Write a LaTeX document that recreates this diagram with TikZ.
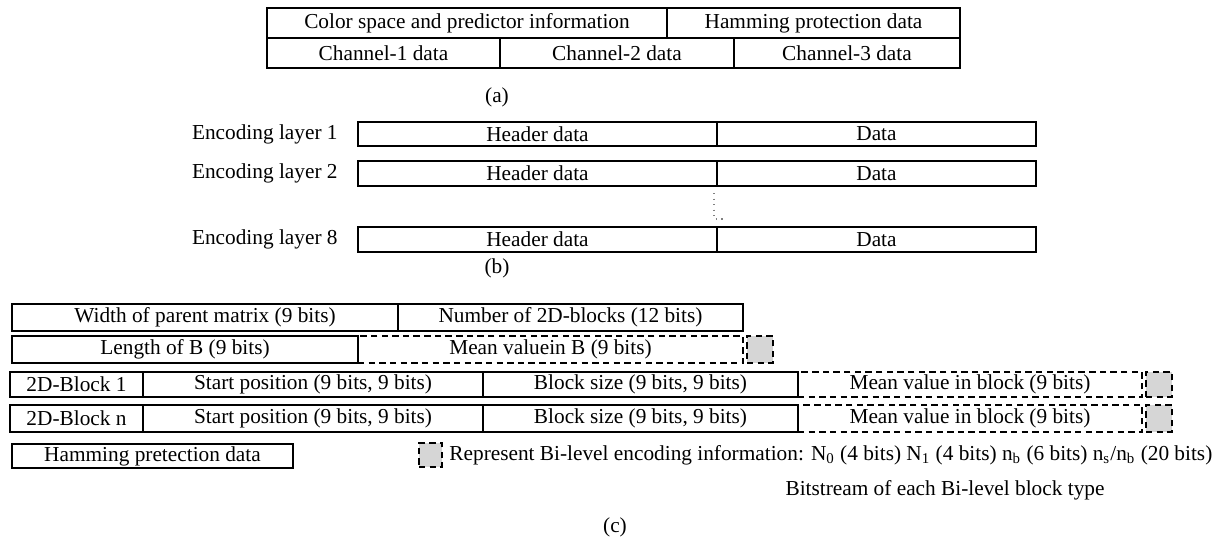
\documentclass[tikz,border=0pt]{standalone}
\usepackage{fontspec}
\setmainfont{Liberation Serif}
\newcommand\pxu{0.0165cm}
\definecolor{bitgray}{gray}{0.84}
% one field of a bitstream: [style]{name}{text}{left}{right}{top}{bottom}
\newcommand{\field}[7][cell]{%
	\node[#1, minimum width={(#5-#4)*\pxu}, minimum height={(#7-#6)*\pxu}] (#2) at ({(#4+#5)/2},{(#6+#7)/2}) {#3};
}
\newcommand{\layer}[3]{%
	\node[lbl, anchor=east] (lay#1) at (338,{(#2+#3)/2}) {Encoding layer #1};
	\field{hd#1}{Header data}{358}{717}{#2}{#3}
	\field{dt#1}{Data}{717}{1036}{#2}{#3}
}
\newcommand{\blockrow}[4]{%
	\field{blk#1}{2D-Block #2}{10}{143}{#3}{#4}
	\field{sp#1}{Start position (9 bits, 9 bits)}{143}{483}{#3}{#4}
	\field{bs#1}{Block size (9 bits, 9 bits)}{483}{798}{#3}{#4}
	\field[dcell]{mv#1}{Mean value in block (9 bits)}{798}{1142}{#3}{#4}
	\field[bitbox]{bq#1}{}{1146}{1172}{#3}{#4}
}

\begin{document}
\begin{tikzpicture}[x=0.0165cm, y=-0.0165cm,
	cell/.style={draw, line width=0.6pt, inner sep=0pt, outer sep=0pt},
	dcell/.style={cell, dash pattern=on 3pt off 2pt},
	bitbox/.style={dcell, fill=bitgray},
	lbl/.style={inner sep=0pt}]
	
	\useasboundingbox (0,0) rectangle (1230,539);
	
	% (a)
	\field{csp}{Color space and predictor information}{267}{667}{8}{38}
	\field{ham}{Hamming protection data}{667}{960}{8}{38}
	\field{ch1}{Channel-1 data}{267}{500}{38}{68}
	\field{ch2}{Channel-2 data}{500}{734}{38}{68}
	\field{ch3}{Channel-3 data}{734}{960}{38}{68}
	\node[lbl] (capa) at (497,97) {(a)};
	
	% (b)
	\layer{1}{122}{146}
	\layer{2}{161}{186}
	\layer{8}{227}{252}
	\draw[dotted, line width=0.6pt, gray] (714,193) -- (714,219) -- (724,219);
	\node[lbl] (capb) at (497,268) {(b)};
	
	% (c)
	\field{wpm}{Width of parent matrix (9 bits)}{12}{398}{304}{331}
	\field{nbl}{Number of 2D-blocks (12 bits)}{398}{743}{304}{331}
	\field{lob}{Length of B (9 bits)}{12}{358}{336}{363}
	\field[dcell]{mvb}{Mean valuein B (9 bits)}{358}{743}{336}{363}
	\field[bitbox]{bqb}{}{747}{773}{336}{363}
	
	\blockrow{1}{1}{372}{397}
	\blockrow{n}{n}{405}{432}
	
	\field{hpd}{Hamming pretection data}{12}{293}{444}{468}
	\field[bitbox]{leg}{}{419}{442}{443}{467}
	\node[lbl, anchor=west] (legtxt) at (449,455) {Represent Bi-level encoding information: N\textsubscript{0} (4 bits) N\textsubscript{1} (4 bits) n\textsubscript{b} (6 bits) n\textsubscript{s}/n\textsubscript{b} (20 bits)};
	\node[lbl] (bits) at (945,490) {Bitstream of each Bi-level block type};
	\node[lbl] (capc) at (615,527) {(c)};
	
\end{tikzpicture}
\end{document}
